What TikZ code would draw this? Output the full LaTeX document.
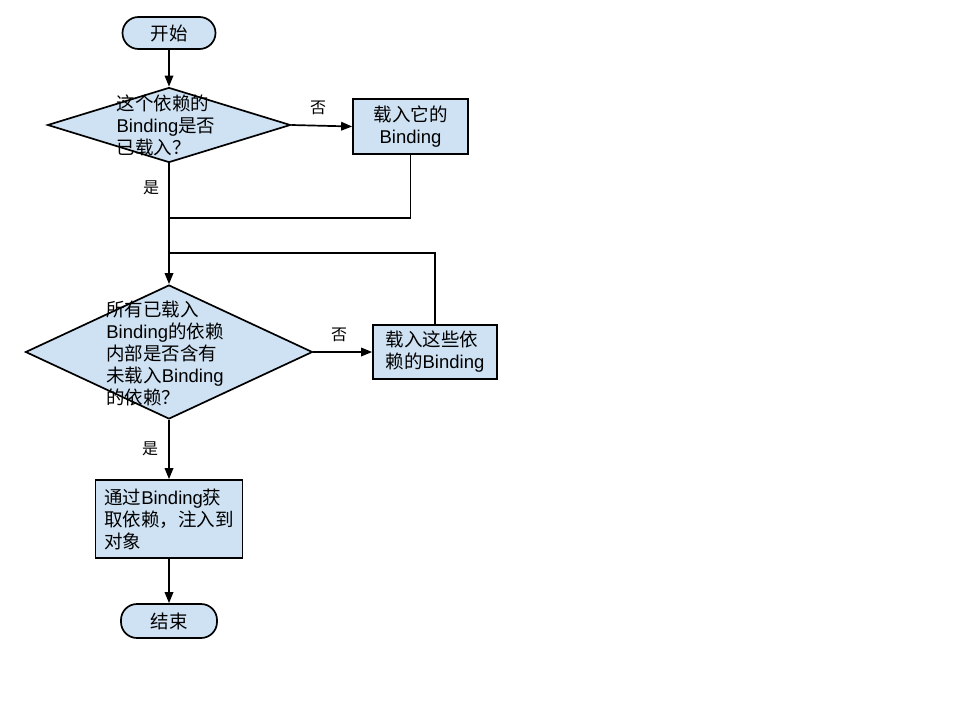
\documentclass[tikz,border=0pt]{standalone}
\usepackage{fontspec}
\setmainfont{Liberation Sans}
\newfontfamily\cjk{Noto Sans CJK SC}
\newcommand{\zh}[1]{{\cjk #1}}
\usetikzlibrary{shapes.geometric,arrows.meta}
\definecolor{boxfill}{HTML}{CFE2F3}
\begin{document}
\begin{tikzpicture}[x=1pt,y=-1pt,
  every node/.style={font=\fontsize{18.5}{22}\selectfont},
  term/.style={draw, fill=boxfill, rounded corners=16pt, line width=1.7pt, inner sep=0},
  proc/.style={draw, fill=boxfill, line width=1.7pt, inner sep=0},
  dec/.style={draw, fill=boxfill, diamond, line width=1.7pt, inner sep=0},
  lbl/.style={align=left, inner sep=0},
  yn/.style={font=\fontsize{16}{18}\selectfont, inner sep=0},
  conn/.style={line width=1.7pt},
  arr/.style={conn, -{Triangle[length=11pt,width=8.5pt]}}]
\useasboundingbox (0,0) rectangle (960,720);
\node[term, minimum width=93pt, minimum height=32pt] (s) at (169,33) {\zh{开始}};
\node[dec, minimum width=243pt, minimum height=75pt] (d1) at (169,125) {};
\node[lbl] (d1t) at (166,125.5) {\zh{这个依赖的}\\Binding\zh{是否}\\\zh{已载入？}};
\node[proc, minimum width=115pt, minimum height=55pt, align=center] (b1) at (410.5,126.5) {\zh{载入它的}\\Binding};
\node[dec, minimum width=287pt, minimum height=134pt] (d2) at (169,352) {};
\node[lbl] (d2t) at (165,353) {\zh{所有已载入}\\Binding\zh{的依赖}\\\zh{内部是否含有}\\\zh{未载入}Binding\\\zh{的依赖？}};
\node[proc, minimum width=124pt, minimum height=54pt, align=left] (b2) at (435,352) {\zh{载入这些依}\\\zh{赖的}Binding};
\node[proc, minimum width=147pt, minimum height=78pt, align=left] (b3) at (169,519) {\zh{通过}Binding\zh{获}\\\zh{取依赖，注入到}\\\zh{对象}};
\node[term, minimum width=96pt, minimum height=34pt] (e) at (169,621) {\zh{结束}};
\coordinate (j1) at (169,218);
\coordinate (j2) at (169,253);
\node[yn] (n1) at (318,108) {\zh{否}};
\node[yn] (y1) at (151,188) {\zh{是}};
\node[yn] (n2) at (339,335) {\zh{否}};
\node[yn] (y2) at (150,449) {\zh{是}};
\draw[arr] (s.south) -- (d1.north);
\draw[arr] (d1.east) -- (b1.west);
\draw[conn] (b1.south) |- (j1);
\draw[arr] (d1.south) -- (d2.north);
\draw[conn] (b2.north) |- (j2);
\draw[arr] (d2.east) -- (b2.west);
\draw[arr] (d2.south) -- (b3.north);
\draw[arr] (b3.south) -- (e.north);
\end{tikzpicture}
\end{document}
